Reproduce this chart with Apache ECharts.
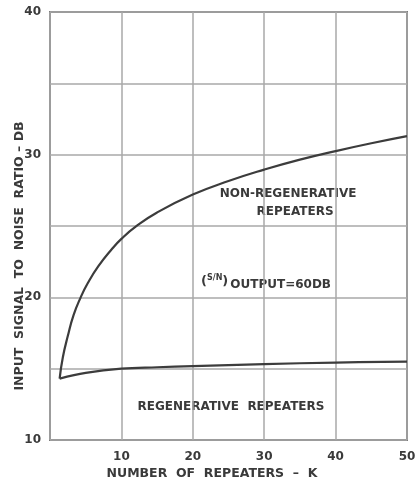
<!DOCTYPE html>
<html>
<head>
<meta charset="utf-8">
<script src="https://cdn.jsdelivr.net/npm/echarts@6/dist/echarts.min.js"></script>
<style>
  html, body { margin: 0; padding: 0; background: #fff; }
  #chart { width: 417px; height: 483px; }
</style>
</head>
<body>
<div id="chart"></div>
<script>
// Number of repeaters K
const nonRegenK = [1.35, 1.8, 2.5, 3.3, 4.3, 5.3, 6.8, 8.7, 10, 12, 15, 20, 25, 30, 35, 40, 45, 50];
// Required input S/N (dB) with non-regenerative repeaters
const nonRegenDb = [14.3, 15.8, 17.3, 18.75, 20.0, 21.0, 22.2, 23.4, 24.1, 24.95, 25.95, 27.2, 28.15, 28.95, 29.65, 30.25, 30.8, 31.3];

const regenK = [1.35, 5, 10, 15, 20, 30, 40, 50];
// Required input S/N (dB) with regenerative repeaters
const regenDb = [14.3, 14.7, 15.0, 15.1, 15.18, 15.32, 15.43, 15.5];

const xTickLabels = [10, 20, 30, 40, 50];
const yTickLabels = [10, 20, 30, 40];

const ink = '#3a3a3a';
const font = 'DejaVu Sans';

const pairs = (xs, ys) => xs.map((x, i) => [x, ys[i]]);

const chart = echarts.init(document.getElementById('chart'), null, { renderer: 'canvas' });

const lbl = { fill: ink, fontFamily: font, fontWeight: 'bold', fontSize: 12, align: 'center', verticalAlign: 'middle' };

chart.setOption({
  animation: false,
  backgroundColor: '#ffffff',
  grid: {
    left: 50, top: 12, width: 357, height: 428,
    outerBoundsMode: 'none', containLabel: false,
    show: true, borderColor: '#7a7a7a', borderWidth: 2, backgroundColor: 'transparent'
  },
  xAxis: {
    type: 'value', min: 0, max: 50, interval: 10,
    axisLine: { show: false }, axisTick: { show: false },
    splitLine: { show: true, lineStyle: { color: '#a8a8a8', width: 1.5 } },
    axisLabel: {
      margin: 11, color: ink, fontFamily: font, fontWeight: 'bold', fontSize: 12,
      formatter: v => (xTickLabels.includes(v) ? String(v) : '')
    }
  },
  yAxis: {
    type: 'value', min: 10, max: 40, interval: 5,
    axisLine: { show: false }, axisTick: { show: false },
    splitLine: { show: true, lineStyle: { color: '#a8a8a8', width: 1.5 } },
    axisLabel: {
      margin: 9, color: ink, fontFamily: font, fontWeight: 'bold', fontSize: 12,
      formatter: v => (yTickLabels.includes(v) ? String(v) : '')
    }
  },
  series: [
    {
      name: 'Non-regenerative', type: 'line', smooth: 0.5, symbol: 'none',
      data: pairs(nonRegenK, nonRegenDb),
      lineStyle: { color: '#3c3c3c', width: 2.2 }
    },
    {
      name: 'Regenerative', type: 'line', smooth: 0.4, symbol: 'none',
      data: pairs(regenK, regenDb),
      lineStyle: { color: '#3c3c3c', width: 2.2 }
    }
  ],
  graphic: [
    // axis titles
    { type: 'text', x: 20, y: 256, rotation: Math.PI / 2,
      style: Object.assign({ text: 'INPUT  SIGNAL  TO  NOISE  RATIO – DB' }, lbl, { fontSize: 12.5 }) },
    { type: 'text', x: 212, y: 474,
      style: Object.assign({ text: 'NUMBER  OF  REPEATERS  –  K' }, lbl, { fontSize: 12.5 }) },
    // in-plot annotations
    { type: 'text', x: 288, y: 194, style: Object.assign({ text: 'NON-REGENERATIVE' }, lbl) },
    { type: 'text', x: 295, y: 212, style: Object.assign({ text: 'REPEATERS' }, lbl) },
    {
      type: 'text', x: 266, y: 282,
      style: Object.assign({}, lbl, {
        text: '{p|(}{f|S/N}{p|)}{t|OUTPUT=60DB}',
        rich: {
          p: { fill: ink, fontFamily: font, fontWeight: 'bold', fontSize: 13 },
          f: { fill: ink, fontFamily: font, fontWeight: 'bold', fontSize: 8, verticalAlign: 'top', padding: [0, 0, 6, 0] },
          t: { fill: ink, fontFamily: font, fontWeight: 'bold', fontSize: 12, padding: [5, 0, 0, 2] }
        }
      })
    },
    { type: 'text', x: 231, y: 407, style: Object.assign({ text: 'REGENERATIVE  REPEATERS' }, lbl) }
  ]
});
</script>
</body>
</html>
